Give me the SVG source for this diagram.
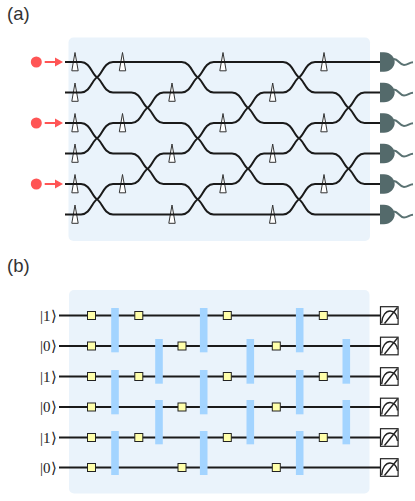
<svg xmlns="http://www.w3.org/2000/svg" width="415" height="501" viewBox="0 0 415 501">
<style>
.panel{fill:#eaf3fb}
.lab{font-family:"Liberation Sans",Arial,sans-serif;font-size:18.500px;fill:#333}
.ket{font-family:"Liberation Serif","Times New Roman",serif;font-size:15px;fill:#222}
.wire{fill:none;stroke:#1a1a1a;stroke-width:2}
.rail{fill:none;stroke:#1a1a1a;stroke-width:1.800}
.ps{fill:#fff;stroke:#333;stroke-width:1}
.src{fill:#ff5555}
.arr{stroke:#ff5555;stroke-width:2;fill:none}
.det{fill:#546a6b}
.sq{fill:none;stroke:#5a7272;stroke-width:2}
.gate{fill:#ffffaa;stroke:#222;stroke-width:1}
.bar{fill:#a3d4ff}
.meter{fill:#fff;stroke:#222;stroke-width:1.200}
.needle{fill:none;stroke:#222;stroke-width:1.400}
</style>
<defs>
<polygon id="ps" class="ps" points="0,-9.500 -3.200,8.800 3.200,8.800"/>
<g id="detector"><path class="det" d="M380,-9.700H384C390,-9.700 394.700,-5 394.700,0C394.700,5 390,9.700 384,9.700H380Z"/><path class="sq" d="M394,-3C398,-3 400,3 404,3C408,3 409,0.500 413,0.300"/></g>
<g id="source"><circle class="src" cx="36.300" cy="0" r="5.500"/><path class="arr" d="M44.700,0H57"/><path class="src" d="M55,-4.500L63,0L55,4.500Z"/></g>
<g id="meter"><rect class="meter" x="380.500" y="-8.800" width="17.600" height="17.600"/><path class="needle" d="M381.700,7.500C382,0 386,-4.500 390,-4.500C394,-4.500 397,-1 397.500,3.500"/><path class="needle" d="M384.500,8L397.500,-8"/></g>
<rect id="gate" class="gate" x="-4" y="-4" width="8" height="8"/>
</defs>
<text class="lab" x="7" y="20">(a)</text>
<text class="lab" x="7" y="271.500">(b)</text>
<rect class="panel" x="68.500" y="37.500" width="301.500" height="203.500" rx="5"/>
<rect class="panel" x="69" y="290" width="300.500" height="203.500" rx="5"/>
<g id="phase-shifters">
<use href="#ps" x="75" y="62"/><use href="#ps" x="122.500" y="62"/><use href="#ps" x="223" y="62"/><use href="#ps" x="324" y="62"/>
<use href="#ps" x="75" y="92.500"/><use href="#ps" x="172" y="92.500"/><use href="#ps" x="272.700" y="92.500"/>
<use href="#ps" x="75" y="123"/><use href="#ps" x="122.500" y="123"/><use href="#ps" x="223" y="123"/><use href="#ps" x="324" y="123"/>
<use href="#ps" x="75" y="153.500"/><use href="#ps" x="172" y="153.500"/><use href="#ps" x="272.700" y="153.500"/>
<use href="#ps" x="75" y="184"/><use href="#ps" x="122.500" y="184"/><use href="#ps" x="223" y="184"/><use href="#ps" x="324" y="184"/>
<use href="#ps" x="75" y="214.500"/><use href="#ps" x="172" y="214.500"/><use href="#ps" x="272.700" y="214.500"/>
</g>
<g id="connectors-a">
<path class="wire" d="M65,62H81c9,0 11,12.200 16,15.250c5,3.050 7,15.250 16,15.250H131.500c9,0 11,12.200 16,15.250c5,3.050 7,15.250 16,15.250H181.700c9,0 11,12.200 16,15.250c5,3.050 7,15.250 16,15.250H232c9,0 11,12.200 16,15.250c5,3.050 7,15.250 16,15.250H283c9,0 11,12.200 16,15.250c5,3.050 7,15.250 16,15.250H380"/>
<path class="wire" d="M65,92.500H81c9,0 11,-12.200 16,-15.250c5,-3.050 7,-15.250 16,-15.250H181.700c9,0 11,12.200 16,15.250c5,3.050 7,15.250 16,15.250H232c9,0 11,12.200 16,15.250c5,3.050 7,15.250 16,15.250H283c9,0 11,12.200 16,15.250c5,3.050 7,15.250 16,15.250H332.500c9,0 11,12.200 16,15.250c5,3.050 7,15.250 16,15.250H380"/>
<path class="wire" d="M65,123H81c9,0 11,12.200 16,15.250c5,3.050 7,15.250 16,15.250H131.500c9,0 11,12.200 16,15.250c5,3.050 7,15.250 16,15.250H181.700c9,0 11,12.200 16,15.250c5,3.050 7,15.250 16,15.250H283c9,0 11,-12.200 16,-15.250c5,-3.050 7,-15.250 16,-15.250H332.500c9,0 11,-12.200 16,-15.250c5,-3.050 7,-15.250 16,-15.250H380"/>
<path class="wire" d="M65,153.500H81c9,0 11,-12.200 16,-15.250c5,-3.050 7,-15.250 16,-15.250H131.500c9,0 11,-12.200 16,-15.250c5,-3.050 7,-15.250 16,-15.250H181.700c9,0 11,-12.200 16,-15.250c5,-3.050 7,-15.250 16,-15.250H283c9,0 11,12.200 16,15.250c5,3.050 7,15.250 16,15.250H332.500c9,0 11,12.200 16,15.250c5,3.050 7,15.250 16,15.250H380"/>
<path class="wire" d="M65,184H81c9,0 11,12.200 16,15.250c5,3.050 7,15.250 16,15.250H181.700c9,0 11,-12.200 16,-15.250c5,-3.050 7,-15.250 16,-15.250H232c9,0 11,-12.200 16,-15.250c5,-3.050 7,-15.250 16,-15.250H283c9,0 11,-12.200 16,-15.250c5,-3.050 7,-15.250 16,-15.250H332.500c9,0 11,-12.200 16,-15.250c5,-3.050 7,-15.250 16,-15.250H380"/>
<path class="wire" d="M65,214.500H81c9,0 11,-12.200 16,-15.250c5,-3.050 7,-15.250 16,-15.250H131.500c9,0 11,-12.200 16,-15.250c5,-3.050 7,-15.250 16,-15.250H181.700c9,0 11,-12.200 16,-15.250c5,-3.050 7,-15.250 16,-15.250H232c9,0 11,-12.200 16,-15.250c5,-3.050 7,-15.250 16,-15.250H283c9,0 11,-12.200 16,-15.250c5,-3.050 7,-15.250 16,-15.250H380"/>
</g>
<g id="sources"><use href="#source" y="62"/><use href="#source" y="123"/><use href="#source" y="184"/></g>
<g id="detectors"><use href="#detector" y="62"/><use href="#detector" y="92.500"/><use href="#detector" y="123"/><use href="#detector" y="153.500"/><use href="#detector" y="184"/><use href="#detector" y="214.500"/></g>
<g id="connectors-b">
<path class="rail" d="M59,315.500H381M59,346H381M59,376.500H381M59,407H381M59,437.500H381M59,467.500H381"/>
</g>
<g id="kets">
<text class="ket" x="40" y="320.500">|1⟩</text><text class="ket" x="40" y="351">|0⟩</text><text class="ket" x="40" y="381.500">|1⟩</text><text class="ket" x="40" y="412">|0⟩</text><text class="ket" x="40" y="442.500">|1⟩</text><text class="ket" x="40" y="472.500">|0⟩</text>
</g>
<g id="beamsplitters">
<rect class="bar" x="111.200" y="308" width="7.600" height="44.300"/><rect class="bar" x="111.200" y="370" width="7.600" height="44.300"/><rect class="bar" x="111.200" y="431" width="7.600" height="44"/>
<rect class="bar" x="155.200" y="339" width="7.600" height="44.700"/><rect class="bar" x="155.200" y="400" width="7.600" height="44.300"/>
<rect class="bar" x="199.900" y="308" width="7.600" height="44.300"/><rect class="bar" x="199.900" y="370" width="7.600" height="44.300"/><rect class="bar" x="199.900" y="431" width="7.600" height="44"/>
<rect class="bar" x="246.500" y="339" width="7.600" height="44.700"/><rect class="bar" x="246.500" y="400" width="7.600" height="44.300"/>
<rect class="bar" x="295.900" y="308" width="7.600" height="44.300"/><rect class="bar" x="295.900" y="370" width="7.600" height="44.300"/><rect class="bar" x="295.900" y="431" width="7.600" height="44"/>
<rect class="bar" x="342.500" y="339" width="7.600" height="44.700"/><rect class="bar" x="342.500" y="400" width="7.600" height="44.300"/>
</g>
<g id="gates">
<use href="#gate" x="91.500" y="315.500"/><use href="#gate" x="138.800" y="315.500"/><use href="#gate" x="227.300" y="315.500"/><use href="#gate" x="323.300" y="315.500"/>
<use href="#gate" x="91.500" y="346"/><use href="#gate" x="182" y="346"/><use href="#gate" x="276.300" y="346"/>
<use href="#gate" x="91.500" y="376.500"/><use href="#gate" x="138.800" y="376.500"/><use href="#gate" x="227.300" y="376.500"/><use href="#gate" x="323.300" y="376.500"/>
<use href="#gate" x="91.500" y="407"/><use href="#gate" x="182" y="407"/><use href="#gate" x="276.300" y="407"/>
<use href="#gate" x="91.500" y="437.500"/><use href="#gate" x="138.800" y="437.500"/><use href="#gate" x="227.300" y="437.500"/><use href="#gate" x="323.300" y="437.500"/>
<use href="#gate" x="91.500" y="467.500"/><use href="#gate" x="182" y="467.500"/><use href="#gate" x="276.300" y="467.500"/>
</g>
<g id="meters"><use href="#meter" y="315.500"/><use href="#meter" y="346"/><use href="#meter" y="376.500"/><use href="#meter" y="407"/><use href="#meter" y="437.500"/><use href="#meter" y="467.500"/></g>
</svg>
